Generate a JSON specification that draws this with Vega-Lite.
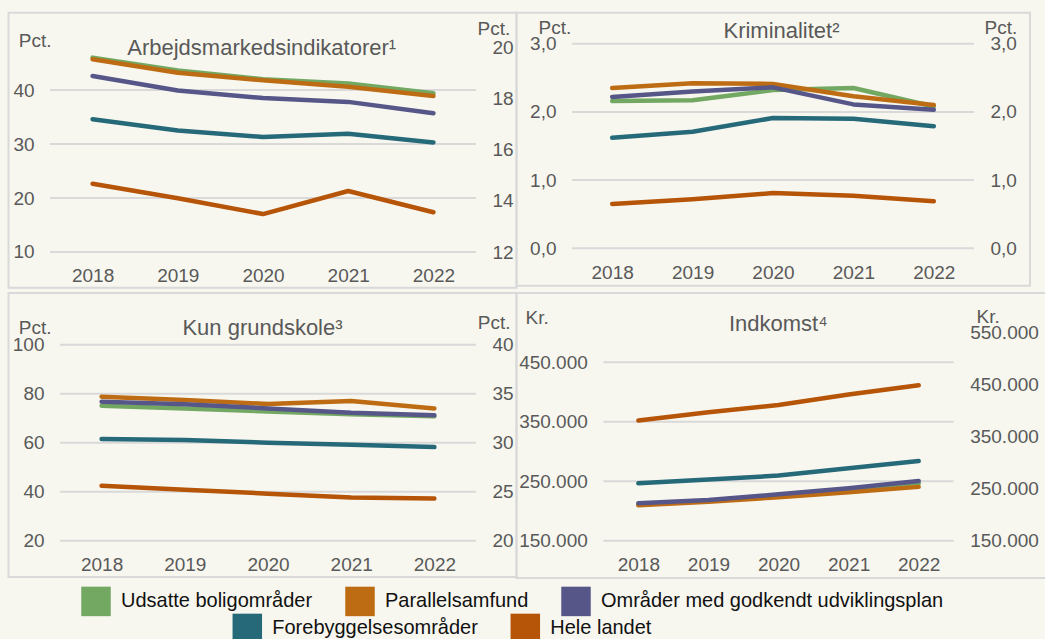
{
  "$schema": "https://vega.github.io/schema/vega-lite/v6.json",
  "background": "#f7f7ef",
  "padding": {"left": 7.5, "top": 11.8, "right": 0, "bottom": 0},
  "data": {"values": [
    {"p": "arb", "year": 2018, "s": "Udsatte boligområder", "v": 46.0},
    {"p": "arb", "year": 2019, "s": "Udsatte boligområder", "v": 43.6},
    {"p": "arb", "year": 2020, "s": "Udsatte boligområder", "v": 42.0},
    {"p": "arb", "year": 2021, "s": "Udsatte boligområder", "v": 41.2},
    {"p": "arb", "year": 2022, "s": "Udsatte boligområder", "v": 39.4},
    {"p": "arb", "year": 2018, "s": "Parallelsamfund", "v": 45.7},
    {"p": "arb", "year": 2019, "s": "Parallelsamfund", "v": 43.2},
    {"p": "arb", "year": 2020, "s": "Parallelsamfund", "v": 41.8},
    {"p": "arb", "year": 2021, "s": "Parallelsamfund", "v": 40.6},
    {"p": "arb", "year": 2022, "s": "Parallelsamfund", "v": 38.9},
    {"p": "arb", "year": 2018, "s": "Områder med godkendt udviklingsplan", "v": 42.6},
    {"p": "arb", "year": 2019, "s": "Områder med godkendt udviklingsplan", "v": 39.9},
    {"p": "arb", "year": 2020, "s": "Områder med godkendt udviklingsplan", "v": 38.5},
    {"p": "arb", "year": 2021, "s": "Områder med godkendt udviklingsplan", "v": 37.8},
    {"p": "arb", "year": 2022, "s": "Områder med godkendt udviklingsplan", "v": 35.7},
    {"p": "arb", "year": 2018, "s": "Forebyggelsesområder", "v": 34.6},
    {"p": "arb", "year": 2019, "s": "Forebyggelsesområder", "v": 32.5},
    {"p": "arb", "year": 2020, "s": "Forebyggelsesområder", "v": 31.3},
    {"p": "arb", "year": 2021, "s": "Forebyggelsesområder", "v": 31.9},
    {"p": "arb", "year": 2022, "s": "Forebyggelsesområder", "v": 30.3},
    {"p": "arb", "year": 2018, "s": "Hele landet", "v": 14.66},
    {"p": "arb", "year": 2019, "s": "Hele landet", "v": 14.10},
    {"p": "arb", "year": 2020, "s": "Hele landet", "v": 13.48},
    {"p": "arb", "year": 2021, "s": "Hele landet", "v": 14.38},
    {"p": "arb", "year": 2022, "s": "Hele landet", "v": 13.55},

    {"p": "krim", "year": 2018, "s": "Udsatte boligområder", "v": 2.16},
    {"p": "krim", "year": 2019, "s": "Udsatte boligområder", "v": 2.17},
    {"p": "krim", "year": 2020, "s": "Udsatte boligområder", "v": 2.32},
    {"p": "krim", "year": 2021, "s": "Udsatte boligområder", "v": 2.35},
    {"p": "krim", "year": 2022, "s": "Udsatte boligområder", "v": 2.08},
    {"p": "krim", "year": 2018, "s": "Parallelsamfund", "v": 2.35},
    {"p": "krim", "year": 2019, "s": "Parallelsamfund", "v": 2.42},
    {"p": "krim", "year": 2020, "s": "Parallelsamfund", "v": 2.41},
    {"p": "krim", "year": 2021, "s": "Parallelsamfund", "v": 2.23},
    {"p": "krim", "year": 2022, "s": "Parallelsamfund", "v": 2.10},
    {"p": "krim", "year": 2018, "s": "Områder med godkendt udviklingsplan", "v": 2.22},
    {"p": "krim", "year": 2019, "s": "Områder med godkendt udviklingsplan", "v": 2.30},
    {"p": "krim", "year": 2020, "s": "Områder med godkendt udviklingsplan", "v": 2.36},
    {"p": "krim", "year": 2021, "s": "Områder med godkendt udviklingsplan", "v": 2.11},
    {"p": "krim", "year": 2022, "s": "Områder med godkendt udviklingsplan", "v": 2.03},
    {"p": "krim", "year": 2018, "s": "Forebyggelsesområder", "v": 1.62},
    {"p": "krim", "year": 2019, "s": "Forebyggelsesområder", "v": 1.71},
    {"p": "krim", "year": 2020, "s": "Forebyggelsesområder", "v": 1.91},
    {"p": "krim", "year": 2021, "s": "Forebyggelsesområder", "v": 1.90},
    {"p": "krim", "year": 2022, "s": "Forebyggelsesområder", "v": 1.79},
    {"p": "krim", "year": 2018, "s": "Hele landet", "v": 0.65},
    {"p": "krim", "year": 2019, "s": "Hele landet", "v": 0.72},
    {"p": "krim", "year": 2020, "s": "Hele landet", "v": 0.81},
    {"p": "krim", "year": 2021, "s": "Hele landet", "v": 0.77},
    {"p": "krim", "year": 2022, "s": "Hele landet", "v": 0.69},

    {"p": "grund", "year": 2018, "s": "Udsatte boligområder", "v": 75.1},
    {"p": "grund", "year": 2019, "s": "Udsatte boligområder", "v": 74.0},
    {"p": "grund", "year": 2020, "s": "Udsatte boligområder", "v": 72.7},
    {"p": "grund", "year": 2021, "s": "Udsatte boligområder", "v": 71.6},
    {"p": "grund", "year": 2022, "s": "Udsatte boligområder", "v": 70.8},
    {"p": "grund", "year": 2018, "s": "Parallelsamfund", "v": 78.8},
    {"p": "grund", "year": 2019, "s": "Parallelsamfund", "v": 77.4},
    {"p": "grund", "year": 2020, "s": "Parallelsamfund", "v": 75.8},
    {"p": "grund", "year": 2021, "s": "Parallelsamfund", "v": 77.0},
    {"p": "grund", "year": 2022, "s": "Parallelsamfund", "v": 74.0},
    {"p": "grund", "year": 2018, "s": "Områder med godkendt udviklingsplan", "v": 76.7},
    {"p": "grund", "year": 2019, "s": "Områder med godkendt udviklingsplan", "v": 75.7},
    {"p": "grund", "year": 2020, "s": "Områder med godkendt udviklingsplan", "v": 74.0},
    {"p": "grund", "year": 2021, "s": "Områder med godkendt udviklingsplan", "v": 72.2},
    {"p": "grund", "year": 2022, "s": "Områder med godkendt udviklingsplan", "v": 71.2},
    {"p": "grund", "year": 2018, "s": "Forebyggelsesområder", "v": 61.5},
    {"p": "grund", "year": 2019, "s": "Forebyggelsesområder", "v": 61.1},
    {"p": "grund", "year": 2020, "s": "Forebyggelsesområder", "v": 60.0},
    {"p": "grund", "year": 2021, "s": "Forebyggelsesområder", "v": 59.2},
    {"p": "grund", "year": 2022, "s": "Forebyggelsesområder", "v": 58.2},
    {"p": "grund", "year": 2018, "s": "Hele landet", "v": 25.6},
    {"p": "grund", "year": 2019, "s": "Hele landet", "v": 25.2},
    {"p": "grund", "year": 2020, "s": "Hele landet", "v": 24.8},
    {"p": "grund", "year": 2021, "s": "Hele landet", "v": 24.4},
    {"p": "grund", "year": 2022, "s": "Hele landet", "v": 24.3},

    {"p": "ind", "year": 2018, "s": "Udsatte boligområder", "v": 211000},
    {"p": "ind", "year": 2019, "s": "Udsatte boligområder", "v": 217000},
    {"p": "ind", "year": 2020, "s": "Udsatte boligområder", "v": 226000},
    {"p": "ind", "year": 2021, "s": "Udsatte boligområder", "v": 235000},
    {"p": "ind", "year": 2022, "s": "Udsatte boligområder", "v": 246500},
    {"p": "ind", "year": 2018, "s": "Parallelsamfund", "v": 209500},
    {"p": "ind", "year": 2019, "s": "Parallelsamfund", "v": 215500},
    {"p": "ind", "year": 2020, "s": "Parallelsamfund", "v": 223000},
    {"p": "ind", "year": 2021, "s": "Parallelsamfund", "v": 231500},
    {"p": "ind", "year": 2022, "s": "Parallelsamfund", "v": 240500},
    {"p": "ind", "year": 2018, "s": "Områder med godkendt udviklingsplan", "v": 213000},
    {"p": "ind", "year": 2019, "s": "Områder med godkendt udviklingsplan", "v": 218500},
    {"p": "ind", "year": 2020, "s": "Områder med godkendt udviklingsplan", "v": 228000},
    {"p": "ind", "year": 2021, "s": "Områder med godkendt udviklingsplan", "v": 238000},
    {"p": "ind", "year": 2022, "s": "Områder med godkendt udviklingsplan", "v": 250500},
    {"p": "ind", "year": 2018, "s": "Forebyggelsesområder", "v": 246500},
    {"p": "ind", "year": 2019, "s": "Forebyggelsesområder", "v": 253000},
    {"p": "ind", "year": 2020, "s": "Forebyggelsesområder", "v": 259500},
    {"p": "ind", "year": 2021, "s": "Forebyggelsesområder", "v": 272000},
    {"p": "ind", "year": 2022, "s": "Forebyggelsesområder", "v": 284000},
    {"p": "ind", "year": 2018, "s": "Hele landet", "v": 381000},
    {"p": "ind", "year": 2019, "s": "Hele landet", "v": 397000},
    {"p": "ind", "year": 2020, "s": "Hele landet", "v": 411000},
    {"p": "ind", "year": 2021, "s": "Hele landet", "v": 431000},
    {"p": "ind", "year": 2022, "s": "Hele landet", "v": 449000}
  ]},
  "bounds": "full",
  "columns": 1,
  "spacing": 3.2,
  "concat": [
    {
      "bounds": "flush",
      "spacing": 0,
      "hconcat": [
        {
          "width": 508, "height": 275,
          "title": {"text": "Arbejdsmarkedsindikatorer¹", "offset": -47, "dx": -0.8},
          "layer": [
            {"layer": [
              {"data": {"values": [{}]}, "mark": {"type": "rule", "color": "#d9d9d9", "strokeWidth": 2},
               "encoding": {"x": {"datum": 2017.5, "type": "quantitative", "axis": {"values": [2018, 2019, 2020, 2021, 2022], "format": "d", "offset": -35.8, "labelFlush": false, "title": null}}, "x2": {"datum": 2022.5},
                            "y": {"datum": 10, "type": "quantitative", "axis": {"values": [10, 20, 30, 40], "format": "d", "offset": -41.5, "title": "Pct.", "titleAngle": 0, "titleAlign": "left", "titleBaseline": "alphabetic", "titleX": -31.7, "titleY": 33.9}}}},
              {"data": {"values": [{}]}, "mark": {"type": "rule", "color": "#d9d9d9", "strokeWidth": 2},
               "encoding": {"x": {"datum": 2017.5, "type": "quantitative", "axis": {"values": [2018, 2019, 2020, 2021, 2022], "format": "d", "offset": -35.8, "labelFlush": false, "title": null}}, "x2": {"datum": 2022.5},
                            "y": {"datum": 20, "type": "quantitative", "axis": {"values": [10, 20, 30, 40], "format": "d", "offset": -41.5, "title": "Pct.", "titleAngle": 0, "titleAlign": "left", "titleBaseline": "alphabetic", "titleX": -31.7, "titleY": 33.9}}}},
              {"data": {"values": [{}]}, "mark": {"type": "rule", "color": "#d9d9d9", "strokeWidth": 2},
               "encoding": {"x": {"datum": 2017.5, "type": "quantitative", "axis": {"values": [2018, 2019, 2020, 2021, 2022], "format": "d", "offset": -35.8, "labelFlush": false, "title": null}}, "x2": {"datum": 2022.5},
                            "y": {"datum": 30, "type": "quantitative", "axis": {"values": [10, 20, 30, 40], "format": "d", "offset": -41.5, "title": "Pct.", "titleAngle": 0, "titleAlign": "left", "titleBaseline": "alphabetic", "titleX": -31.7, "titleY": 33.9}}}},
              {"data": {"values": [{}]}, "mark": {"type": "rule", "color": "#d9d9d9", "strokeWidth": 2},
               "encoding": {"x": {"datum": 2017.5, "type": "quantitative", "axis": {"values": [2018, 2019, 2020, 2021, 2022], "format": "d", "offset": -35.8, "labelFlush": false, "title": null}}, "x2": {"datum": 2022.5},
                            "y": {"datum": 40, "type": "quantitative", "axis": {"values": [10, 20, 30, 40], "format": "d", "offset": -41.5, "title": "Pct.", "titleAngle": 0, "titleAlign": "left", "titleBaseline": "alphabetic", "titleX": -31.7, "titleY": 33.9}}}},
              {"transform": [{"filter": "datum.p == 'arb' && datum.s != 'Hele landet'"}],
               "mark": "line",
               "encoding": {
                 "x": {"field": "year", "type": "quantitative", "scale": {"domain": [2017.013, 2022.975], "nice": false, "zero": false},
                       "axis": {"values": [2018, 2019, 2020, 2021, 2022], "format": "d", "offset": -35.8, "labelFlush": false, "title": null}},
                 "y": {"field": "v", "type": "quantitative", "scale": {"domain": [3.37, 54.30], "nice": false, "zero": false},
                       "axis": {"values": [10, 20, 30, 40], "format": "d", "offset": -41.5, "title": "Pct.", "titleAngle": 0, "titleAlign": "left", "titleBaseline": "alphabetic", "titleX": -31.7, "titleY": 33.9}},
                 "stroke": {"field": "s", "type": "nominal", "legend": null,
                   "scale": {"domain": ["Udsatte boligområder", "Parallelsamfund", "Områder med godkendt udviklingsplan", "Forebyggelsesområder", "Hele landet"], "range": ["#72A862", "#BE6C14", "#575689", "#266A7A", "#B65407"]}}
               }},
              {"transform": [{"filter": "datum.p == 'arb' && (datum.s == 'Udsatte boligområder' || datum.s == 'Parallelsamfund' || datum.s == 'Områder med godkendt udviklingsplan')"}],
               "mark": {"type": "square", "size": 0},
               "encoding": {
                 "x": {"field": "year", "type": "quantitative", "axis": {"values": [2018, 2019, 2020, 2021, 2022], "format": "d", "offset": -35.8, "labelFlush": false, "title": null}},
                 "y": {"field": "v", "type": "quantitative", "axis": {"values": [10, 20, 30, 40], "format": "d", "offset": -41.5, "title": "Pct.", "titleAngle": 0, "titleAlign": "left", "titleBaseline": "alphabetic", "titleX": -31.7, "titleY": 33.9}},
                 "fill": {"field": "s", "type": "nominal",
                   "scale": {"domain": ["Udsatte boligområder", "Parallelsamfund", "Områder med godkendt udviklingsplan"], "range": ["#72A862", "#BE6C14", "#575689"]},
                   "legend": {"title": null, "orient": "none", "legendX": 72.5, "legendY": 573.5, "direction": "horizontal", "columns": 3, "columnPadding": 32}}
               }},
              {"transform": [{"filter": "datum.p == 'arb' && (datum.s == 'Forebyggelsesområder' || datum.s == 'Hele landet')"}],
               "mark": {"type": "square", "size": 0},
               "encoding": {
                 "x": {"field": "year", "type": "quantitative", "axis": {"values": [2018, 2019, 2020, 2021, 2022], "format": "d", "offset": -35.8, "labelFlush": false, "title": null}},
                 "y": {"field": "v", "type": "quantitative", "axis": {"values": [10, 20, 30, 40], "format": "d", "offset": -41.5, "title": "Pct.", "titleAngle": 0, "titleAlign": "left", "titleBaseline": "alphabetic", "titleX": -31.7, "titleY": 33.9}},
                 "color": {"field": "s", "type": "nominal",
                   "scale": {"domain": ["Forebyggelsesområder", "Hele landet"], "range": ["#266A7A", "#B65407"]},
                   "legend": {"title": null, "orient": "none", "legendX": 223.8, "legendY": 600.5, "direction": "horizontal", "columns": 2, "columnPadding": 32}}
               }}
            ]},
            {"transform": [{"filter": "datum.p == 'arb' && datum.s == 'Hele landet'"}],
             "mark": "line",
             "encoding": {
               "x": {"field": "year", "type": "quantitative", "axis": {"values": [2018, 2019, 2020, 2021, 2022], "format": "d", "offset": -35.8, "labelFlush": false, "title": null}},
               "y": {"field": "v", "type": "quantitative", "scale": {"domain": [10.603, 21.335], "nice": false, "zero": false},
                     "axis": {"orient": "right", "values": [12, 14, 16, 18, 20], "format": "d", "offset": -40.5, "title": "Pct.", "titleAngle": 0, "titleAlign": "left", "titleBaseline": "alphabetic", "titleX": 1, "titleY": 22.2}},
               "stroke": {"field": "s", "type": "nominal", "legend": null}
             }}
          ],
          "resolve": {"scale": {"y": "independent"}}
        },
        {
          "width": 513.5, "height": 273,
          "title": {"text": "Kriminalitet²", "offset": -29.9, "dx": 8.25},
          "layer": [
            {"layer": [
              {"data": {"values": [{}]}, "mark": {"type": "rule", "color": "#d9d9d9", "strokeWidth": 2},
               "encoding": {"x": {"datum": 2017.5, "type": "quantitative", "axis": {"values": [2018, 2019, 2020, 2021, 2022], "format": "d", "offset": -37.5, "labelFlush": false, "title": null}}, "x2": {"datum": 2022.5},
                            "y": {"datum": 0, "type": "quantitative", "axis": {"values": [0, 1, 2, 3], "format": ".1f", "offset": -55.5, "title": "Pct.", "titleAngle": 0, "titleAlign": "left", "titleBaseline": "alphabetic", "titleX": -34, "titleY": 20.5}}}},
              {"data": {"values": [{}]}, "mark": {"type": "rule", "color": "#d9d9d9", "strokeWidth": 2},
               "encoding": {"x": {"datum": 2017.5, "type": "quantitative", "axis": {"values": [2018, 2019, 2020, 2021, 2022], "format": "d", "offset": -37.5, "labelFlush": false, "title": null}}, "x2": {"datum": 2022.5},
                            "y": {"datum": 1, "type": "quantitative", "axis": {"values": [0, 1, 2, 3], "format": ".1f", "offset": -55.5, "title": "Pct.", "titleAngle": 0, "titleAlign": "left", "titleBaseline": "alphabetic", "titleX": -34, "titleY": 20.5}}}},
              {"data": {"values": [{}]}, "mark": {"type": "rule", "color": "#d9d9d9", "strokeWidth": 2},
               "encoding": {"x": {"datum": 2017.5, "type": "quantitative", "axis": {"values": [2018, 2019, 2020, 2021, 2022], "format": "d", "offset": -37.5, "labelFlush": false, "title": null}}, "x2": {"datum": 2022.5},
                            "y": {"datum": 2, "type": "quantitative", "axis": {"values": [0, 1, 2, 3], "format": ".1f", "offset": -55.5, "title": "Pct.", "titleAngle": 0, "titleAlign": "left", "titleBaseline": "alphabetic", "titleX": -34, "titleY": 20.5}}}},
              {"data": {"values": [{}]}, "mark": {"type": "rule", "color": "#d9d9d9", "strokeWidth": 2},
               "encoding": {"x": {"datum": 2017.5, "type": "quantitative", "axis": {"values": [2018, 2019, 2020, 2021, 2022], "format": "d", "offset": -37.5, "labelFlush": false, "title": null}}, "x2": {"datum": 2022.5},
                            "y": {"datum": 3, "type": "quantitative", "axis": {"values": [0, 1, 2, 3], "format": ".1f", "offset": -55.5, "title": "Pct.", "titleAngle": 0, "titleAlign": "left", "titleBaseline": "alphabetic", "titleX": -34, "titleY": 20.5}}}},
              {"transform": [{"filter": "datum.p == 'krim' && datum.s != 'Hele landet'"}],
               "mark": "line",
               "encoding": {
                 "x": {"field": "year", "type": "quantitative", "scale": {"domain": [2016.810, 2023.197], "nice": false, "zero": false},
                       "axis": {"values": [2018, 2019, 2020, 2021, 2022], "format": "d", "offset": -37.5, "labelFlush": false, "title": null}},
                 "y": {"field": "v", "type": "quantitative", "scale": {"domain": [-0.550, 3.453], "nice": false, "zero": false},
                       "axis": {"values": [0, 1, 2, 3], "format": ".1f", "offset": -55.5, "title": "Pct.", "titleAngle": 0, "titleAlign": "left", "titleBaseline": "alphabetic", "titleX": -34, "titleY": 20.5}},
                 "stroke": {"field": "s", "type": "nominal", "legend": null}
               }}
            ]},
            {"transform": [{"filter": "datum.p == 'krim' && datum.s == 'Hele landet'"}],
             "mark": "line",
             "encoding": {
               "x": {"field": "year", "type": "quantitative", "axis": {"values": [2018, 2019, 2020, 2021, 2022], "format": "d", "offset": -37.5, "labelFlush": false, "title": null}},
               "y": {"field": "v", "type": "quantitative", "scale": {"domain": [-0.550, 3.453], "nice": false, "zero": false},
                     "axis": {"orient": "right", "values": [0, 1, 2, 3], "format": ".1f", "offset": -56, "title": "Pct.", "titleAngle": 0, "titleAlign": "left", "titleBaseline": "alphabetic", "titleX": 10, "titleY": 20.5}},
               "stroke": {"field": "s", "type": "nominal", "legend": null}
             }}
          ],
          "resolve": {"scale": {"y": "independent"}}
        }
      ]
    },
    {
      "bounds": "flush",
      "spacing": 0,
      "hconcat": [
        {
          "width": 508, "height": 284,
          "title": {"text": "Kun grundskole³", "offset": -47.1, "dx": 0},
          "layer": [
            {"layer": [
              {"data": {"values": [{}]}, "mark": {"type": "rule", "color": "#d9d9d9", "strokeWidth": 2},
               "encoding": {"x": {"datum": 2017.5, "type": "quantitative", "axis": {"values": [2018, 2019, 2020, 2021, 2022], "format": "d", "offset": -36.3, "labelFlush": false, "title": null}}, "x2": {"datum": 2022.5},
                            "y": {"datum": 20, "type": "quantitative", "axis": {"values": [20, 40, 60, 80, 100], "format": "d", "offset": -51.5, "title": "Pct.", "titleAngle": 0, "titleAlign": "left", "titleBaseline": "alphabetic", "titleX": -41.7, "titleY": 40.3}}}},
              {"data": {"values": [{}]}, "mark": {"type": "rule", "color": "#d9d9d9", "strokeWidth": 2},
               "encoding": {"x": {"datum": 2017.5, "type": "quantitative", "axis": {"values": [2018, 2019, 2020, 2021, 2022], "format": "d", "offset": -36.3, "labelFlush": false, "title": null}}, "x2": {"datum": 2022.5},
                            "y": {"datum": 40, "type": "quantitative", "axis": {"values": [20, 40, 60, 80, 100], "format": "d", "offset": -51.5, "title": "Pct.", "titleAngle": 0, "titleAlign": "left", "titleBaseline": "alphabetic", "titleX": -41.7, "titleY": 40.3}}}},
              {"data": {"values": [{}]}, "mark": {"type": "rule", "color": "#d9d9d9", "strokeWidth": 2},
               "encoding": {"x": {"datum": 2017.5, "type": "quantitative", "axis": {"values": [2018, 2019, 2020, 2021, 2022], "format": "d", "offset": -36.3, "labelFlush": false, "title": null}}, "x2": {"datum": 2022.5},
                            "y": {"datum": 60, "type": "quantitative", "axis": {"values": [20, 40, 60, 80, 100], "format": "d", "offset": -51.5, "title": "Pct.", "titleAngle": 0, "titleAlign": "left", "titleBaseline": "alphabetic", "titleX": -41.7, "titleY": 40.3}}}},
              {"data": {"values": [{}]}, "mark": {"type": "rule", "color": "#d9d9d9", "strokeWidth": 2},
               "encoding": {"x": {"datum": 2017.5, "type": "quantitative", "axis": {"values": [2018, 2019, 2020, 2021, 2022], "format": "d", "offset": -36.3, "labelFlush": false, "title": null}}, "x2": {"datum": 2022.5},
                            "y": {"datum": 80, "type": "quantitative", "axis": {"values": [20, 40, 60, 80, 100], "format": "d", "offset": -51.5, "title": "Pct.", "titleAngle": 0, "titleAlign": "left", "titleBaseline": "alphabetic", "titleX": -41.7, "titleY": 40.3}}}},
              {"data": {"values": [{}]}, "mark": {"type": "rule", "color": "#d9d9d9", "strokeWidth": 2},
               "encoding": {"x": {"datum": 2017.5, "type": "quantitative", "axis": {"values": [2018, 2019, 2020, 2021, 2022], "format": "d", "offset": -36.3, "labelFlush": false, "title": null}}, "x2": {"datum": 2022.5},
                            "y": {"datum": 100, "type": "quantitative", "axis": {"values": [20, 40, 60, 80, 100], "format": "d", "offset": -51.5, "title": "Pct.", "titleAngle": 0, "titleAlign": "left", "titleBaseline": "alphabetic", "titleX": -41.7, "titleY": 40.3}}}},
              {"transform": [{"filter": "datum.p == 'grund' && datum.s != 'Hele landet'"}],
               "mark": "line",
               "encoding": {
                 "x": {"field": "year", "type": "quantitative", "scale": {"domain": [2016.881, 2022.987], "nice": false, "zero": false},
                       "axis": {"values": [2018, 2019, 2020, 2021, 2022], "format": "d", "offset": -36.3, "labelFlush": false, "title": null}},
                 "y": {"field": "v", "type": "quantitative", "scale": {"domain": [5.18, 121.10], "nice": false, "zero": false},
                       "axis": {"values": [20, 40, 60, 80, 100], "format": "d", "offset": -51.5, "title": "Pct.", "titleAngle": 0, "titleAlign": "left", "titleBaseline": "alphabetic", "titleX": -41.7, "titleY": 40.3}},
                 "stroke": {"field": "s", "type": "nominal", "legend": null}
               }}
            ]},
            {"transform": [{"filter": "datum.p == 'grund' && datum.s == 'Hele landet'"}],
             "mark": "line",
             "encoding": {
               "x": {"field": "year", "type": "quantitative", "axis": {"values": [2018, 2019, 2020, 2021, 2022], "format": "d", "offset": -36.3, "labelFlush": false, "title": null}},
               "y": {"field": "v", "type": "quantitative", "scale": {"domain": [16.296, 45.276], "nice": false, "zero": false},
                     "axis": {"orient": "right", "values": [20, 25, 30, 35, 40], "format": "d", "offset": -40.5, "title": "Pct.", "titleAngle": 0, "titleAlign": "left", "titleBaseline": "alphabetic", "titleX": 1.3, "titleY": 36}},
               "stroke": {"field": "s", "type": "nominal", "legend": null}
             }}
          ],
          "resolve": {"scale": {"y": "independent"}}
        },
        {
          "width": 530, "height": 285,
          "title": {"text": "Indkomst⁴", "offset": -43.1, "dx": -3.2},
          "layer": [
            {"layer": [
              {"data": {"values": [{}]}, "mark": {"type": "rule", "color": "#d9d9d9", "strokeWidth": 2},
               "encoding": {"x": {"datum": 2017.5, "type": "quantitative", "axis": {"values": [2018, 2019, 2020, 2021, 2022], "format": "d", "offset": -37.3, "labelFlush": false, "title": null}}, "x2": {"datum": 2022.5},
                            "y": {"datum": 150000, "type": "quantitative", "axis": {"values": [150000, 250000, 350000, 450000], "format": ",.0f", "offset": -86.8, "title": "Kr.", "titleAngle": 0, "titleAlign": "left", "titleBaseline": "alphabetic", "titleX": -78.3, "titleY": 30.3}}}},
              {"data": {"values": [{}]}, "mark": {"type": "rule", "color": "#d9d9d9", "strokeWidth": 2},
               "encoding": {"x": {"datum": 2017.5, "type": "quantitative", "axis": {"values": [2018, 2019, 2020, 2021, 2022], "format": "d", "offset": -37.3, "labelFlush": false, "title": null}}, "x2": {"datum": 2022.5},
                            "y": {"datum": 250000, "type": "quantitative", "axis": {"values": [150000, 250000, 350000, 450000], "format": ",.0f", "offset": -86.8, "title": "Kr.", "titleAngle": 0, "titleAlign": "left", "titleBaseline": "alphabetic", "titleX": -78.3, "titleY": 30.3}}}},
              {"data": {"values": [{}]}, "mark": {"type": "rule", "color": "#d9d9d9", "strokeWidth": 2},
               "encoding": {"x": {"datum": 2017.5, "type": "quantitative", "axis": {"values": [2018, 2019, 2020, 2021, 2022], "format": "d", "offset": -37.3, "labelFlush": false, "title": null}}, "x2": {"datum": 2022.5},
                            "y": {"datum": 350000, "type": "quantitative", "axis": {"values": [150000, 250000, 350000, 450000], "format": ",.0f", "offset": -86.8, "title": "Kr.", "titleAngle": 0, "titleAlign": "left", "titleBaseline": "alphabetic", "titleX": -78.3, "titleY": 30.3}}}},
              {"data": {"values": [{}]}, "mark": {"type": "rule", "color": "#d9d9d9", "strokeWidth": 2},
               "encoding": {"x": {"datum": 2017.5, "type": "quantitative", "axis": {"values": [2018, 2019, 2020, 2021, 2022], "format": "d", "offset": -37.3, "labelFlush": false, "title": null}}, "x2": {"datum": 2022.5},
                            "y": {"datum": 450000, "type": "quantitative", "axis": {"values": [150000, 250000, 350000, 450000], "format": ",.0f", "offset": -86.8, "title": "Kr.", "titleAngle": 0, "titleAlign": "left", "titleBaseline": "alphabetic", "titleX": -78.3, "titleY": 30.3}}}},
              {"transform": [{"filter": "datum.p == 'ind' && datum.s != 'Hele landet'"}],
               "mark": "line",
               "encoding": {
                 "x": {"field": "year", "type": "quantitative", "scale": {"domain": [2016.261, 2023.824], "nice": false, "zero": false},
                       "axis": {"values": [2018, 2019, 2020, 2021, 2022], "format": "d", "offset": -37.3, "labelFlush": false, "title": null}},
                 "y": {"field": "v", "type": "quantitative", "scale": {"domain": [87260, 566570], "nice": false, "zero": false},
                       "axis": {"values": [150000, 250000, 350000, 450000], "format": ",.0f", "offset": -86.8, "title": "Kr.", "titleAngle": 0, "titleAlign": "left", "titleBaseline": "alphabetic", "titleX": -78.3, "titleY": 30.3}},
                 "stroke": {"field": "s", "type": "nominal", "legend": null}
               }}
            ]},
            {"transform": [{"filter": "datum.p == 'ind' && datum.s == 'Hele landet'"}],
             "mark": "line",
             "encoding": {
               "x": {"field": "year", "type": "quantitative", "axis": {"values": [2018, 2019, 2020, 2021, 2022], "format": "d", "offset": -37.3, "labelFlush": false, "title": null}},
               "y": {"field": "v", "type": "quantitative", "scale": {"domain": [78270, 626350], "nice": false, "zero": false},
                     "axis": {"orient": "right", "values": [150000, 250000, 350000, 450000, 550000], "format": ",.0f", "offset": -92.8, "title": "Kr.", "titleAngle": 0, "titleAlign": "left", "titleBaseline": "alphabetic", "titleX": 22.3, "titleY": 29.3}},
               "stroke": {"field": "s", "type": "nominal", "legend": null}
             }}
          ],
          "resolve": {"scale": {"y": "independent"}}
        }
      ]
    }
  ],
  "config": {
    "font": "Liberation Sans",
    "locale": {"number": {"decimal": ",", "thousands": ".", "grouping": [3], "currency": ["", " kr."]}},
    "view": {"stroke": "#d9d9d9", "strokeWidth": 2},
    "axis": {"labelFontSize": 19, "labelColor": "#595959", "titleFontSize": 19, "titleColor": "#595959", "titleFontWeight": "normal",
             "domain": false, "ticks": false, "tickSize": 0, "grid": false, "labelBound": false},
    "axisX": {"labelPadding": 15, "labelAngle": 0, "title": null},
    "axisY": {"labelPadding": 16},
    "title": {"fontSize": 22, "color": "#595959", "fontWeight": "normal", "frame": "group", "anchor": "middle", "baseline": "alphabetic"},
    "line": {"strokeWidth": 4.5, "strokeCap": "round", "strokeJoin": "round"},
    "legend": {"symbolType": "square", "symbolSize": 870, "symbolOpacity": 1, "labelFontSize": 20, "labelColor": "#111111", "labelLimit": 600, "labelOffset": 10, "padding": 0, "symbolStrokeWidth": 0}
  }
}
